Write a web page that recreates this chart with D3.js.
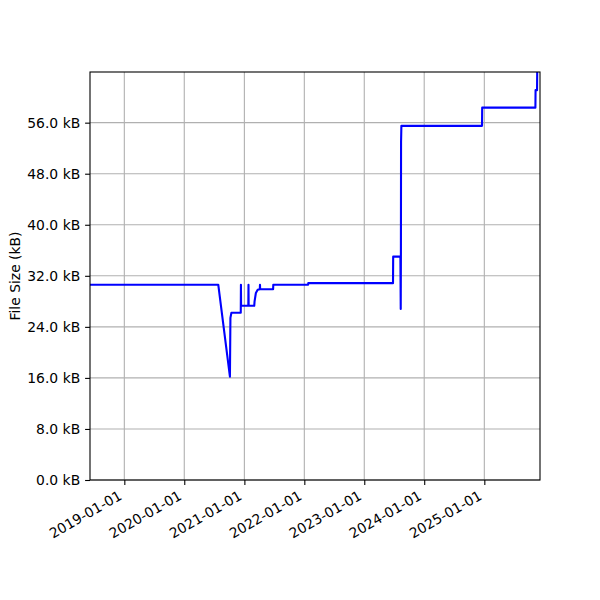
<!DOCTYPE html>
<html>
<head>
<meta charset="utf-8">
<script src="https://cdn.jsdelivr.net/npm/d3@7"></script>
<style>
  body { margin: 0; background: #fff; }
  text { font-family: 'DejaVu Sans', sans-serif; }
</style>
</head>
<body>
<div id="chart"></div>
<script>
// commit dates and file size (kB)
let dates = [
  '2018-06-06', '2020-07-26', '2020-10-05', '2020-10-08', '2020-10-14',
  '2020-12-10', '2020-12-11', '2020-12-12', '2021-01-25', '2021-01-26',
  '2021-01-27', '2021-03-02', '2021-03-04', '2021-03-12', '2021-03-23',
  '2021-04-05', '2021-04-06', '2021-04-07', '2021-06-25', '2021-06-26',
  '2022-01-24', '2022-01-25', '2023-06-25', '2023-06-26', '2023-08-09',
  '2023-08-11', '2023-08-12', '2023-08-13', '2023-08-15', '2024-12-18',
  '2024-12-19', '2025-11-08', '2025-11-09', '2025-11-18', '2025-11-19'
]
let sizes = [
  30.6, 30.6, 16.2, 25.4, 26.2,
  26.2, 30.6, 27.3, 27.3, 30.6,
  27.3, 27.3, 28.0, 29.3, 29.8,
  29.9, 30.6, 29.9, 29.9, 30.6,
  30.6, 30.85, 30.85, 35.0, 35.0,
  26.8, 34.5, 53.0, 55.5, 55.5,
  58.35, 58.35, 61.1, 61.1, 63.94
]
let xTicks = ['2019-01-01', '2020-01-01', '2021-01-01', '2022-01-01', '2023-01-01', '2024-01-01', '2025-01-01']
let yTicks = [0, 8, 16, 24, 32, 40, 48, 56]
let xDomain = ['2018-06-06', '2025-12-06']
let yMax = 63.94

let margin = { top: 72, left: 90, right: 60, bottom: 120 }
let width = 600 - margin.left - margin.right
let height = 600 - margin.top - margin.bottom

let parse = d3.utcParse('%Y-%m-%d')
let datapoints = dates.map((d, i) => ({ date: parse(d), size: sizes[i] }))

let svg = d3
  .select('#chart')
  .append('svg')
  .attr('width', 600)
  .attr('height', 600)
  .append('g')
  .attr('transform', 'translate(' + margin.left + ',' + margin.top + ')')

let xScale = d3.scaleUtc()
  .domain(xDomain.map(parse))
  .range([0, width])

let yScale = d3.scaleLinear()
  .domain([0, yMax])
  .range([height, 0])

// grid
svg.selectAll('.vgrid')
  .data(xTicks.map(parse))
  .enter()
  .append('line')
  .attr('class', 'vgrid')
  .attr('x1', d => xScale(d))
  .attr('x2', d => xScale(d))
  .attr('y1', 0)
  .attr('y2', height)
  .attr('stroke', '#b0b0b0')
  .attr('stroke-width', 1.1)

svg.selectAll('.hgrid')
  .data(yTicks)
  .enter()
  .append('line')
  .attr('class', 'hgrid')
  .attr('x1', 0)
  .attr('x2', width)
  .attr('y1', d => yScale(d))
  .attr('y2', d => yScale(d))
  .attr('stroke', '#b0b0b0')
  .attr('stroke-width', 1.1)

let line = d3.line()
  .x(d => xScale(d.date))
  .y(d => yScale(d.size))

svg.append('path')
  .datum(datapoints)
  .attr('d', line)
  .attr('fill', 'none')
  .attr('stroke', 'blue')
  .attr('stroke-width', 2.1)
  .attr('stroke-linejoin', 'round')

// axes
let xAxis = d3.axisBottom(xScale)
  .tickValues(xTicks.map(parse))
  .tickFormat(d3.utcFormat('%Y-%m-%d'))
  .tickSizeInner(4.9)
  .tickSizeOuter(0)
  .tickPadding(3)

let xg = svg.append('g')
  .attr('transform', `translate(0,${height})`)
  .call(xAxis)
xg.select('.domain').remove()
xg.selectAll('.tick line').attr('stroke', 'black').attr('stroke-width', 1.1)
xg.selectAll('.tick text')
  .attr('font-size', 13.9)
  .attr('fill', 'black')
  .attr('text-anchor', 'end')
  .attr('y', 0)
  .attr('dy', 0)
  .attr('transform', 'translate(-2,18.5) rotate(-30)')

let yAxis = d3.axisLeft(yScale)
  .tickValues(yTicks)
  .tickFormat(d => d.toFixed(1) + ' kB')
  .tickSizeInner(4.9)
  .tickSizeOuter(0)
  .tickPadding(4.9)

let yg = svg.append('g').call(yAxis)
yg.select('.domain').remove()
yg.selectAll('.tick line').attr('stroke', 'black').attr('stroke-width', 1.1)
yg.selectAll('.tick text')
  .attr('font-size', 13.9)
  .attr('fill', 'black')

// frame
svg.append('rect')
  .attr('width', width)
  .attr('height', height)
  .attr('fill', 'none')
  .attr('stroke', 'black')
  .attr('stroke-width', 1.1)

svg.append('text')
  .text('File Size (kB)')
  .attr('transform', `translate(${20 - margin.left},${height / 2}) rotate(-90)`)
  .attr('text-anchor', 'middle')
  .attr('font-size', 13.9)
</script>
</body>
</html>
